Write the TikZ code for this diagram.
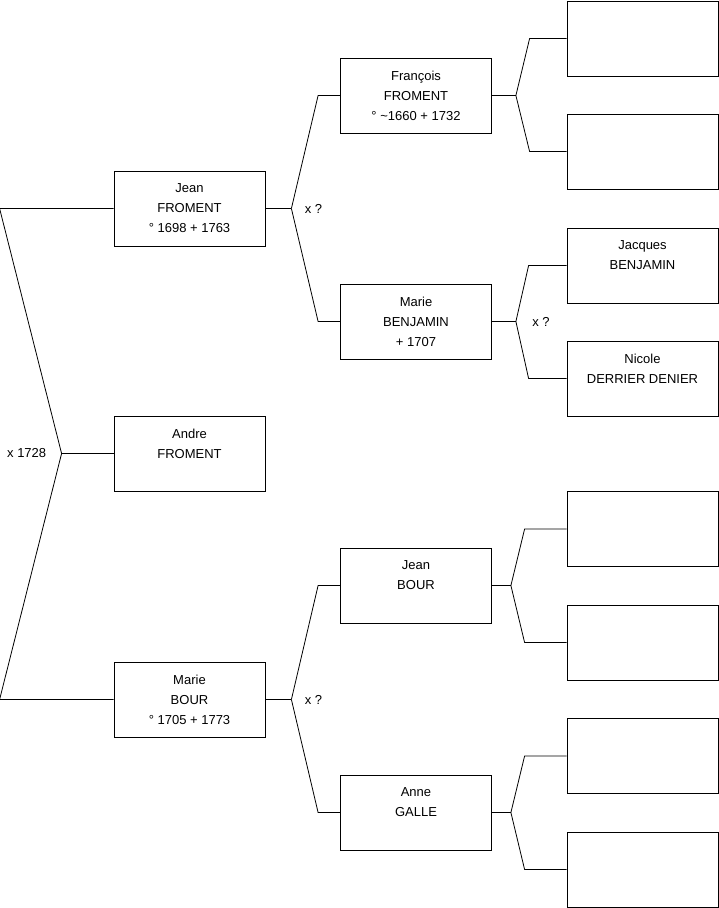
\documentclass[tikz,border=0pt]{standalone}
\usepackage{fontspec}
\setmainfont{Liberation Sans}
\usetikzlibrary{positioning}

\begin{document}
\begin{tikzpicture}[x=1pt, y=-1pt, line width=0.8pt,
    person/.style={draw, fill=white, minimum width=151, minimum height=75, align=center,
      inner sep=0pt, font=\fontsize{13}{20}\selectfont},
    marr/.style={font=\fontsize{13}{15}\selectfont, inner sep=2pt}]
  \useasboundingbox (0,0) rectangle (719,908);
  % generation 1 and 2
  \node[person] (jean)  at (189.5,208.5) {Jean\\FROMENT\\° 1698 + 1763};
  \node[person] (andre) at (189.5,453.5) {Andre\\FROMENT\\\mbox{}};
  \node[person] (mbour) at (189.5,699.5) {Marie\\BOUR\\° 1705 + 1773};
  % generation 3
  \node[person] (fran)  at (416,95.5)  {François\\FROMENT\\° \textasciitilde1660 + 1732};
  \node[person] (mben)  at (416,321.5) {Marie\\BENJAMIN\\+ 1707};
  \node[person] (jbour) at (416,585.5) {Jean\\BOUR\\\mbox{}};
  \node[person] (anne)  at (416,812.5) {Anne\\GALLE\\\mbox{}};
  % generation 4
  \foreach \i/\y/\txt in {1/38.5/{}, 2/151.5/{}, 3/265.5/{Jacques\\BENJAMIN\\\mbox{}},
      4/378.5/{Nicole\\DERRIER DENIER\\\mbox{}}, 5/529/{}, 6/642.5/{}, 7/756/{}, 8/869.5/{}} {
    \node[person] (r\i) at (642.5,\y) {\txt};
  }
  % forks
  \draw (jean.west) -- ([xshift=-114]jean.west) -- ([xshift=-52]andre.west) coordinate (f0)
    -- ([xshift=-114]mbour.west) -- (mbour.west);
  \draw (f0) -- (andre.west);
  \node[marr, left=13pt of f0] {x 1728};
  \foreach \p/\a/\b/\s/\o in {jean/fran/mben/26/22, mbour/jbour/anne/26/22,
      fran/r1/r2/24/37, mben/r3/r4/24/38, jbour/r5/r6/19/42, anne/r7/r8/19/42} {
    \draw (\p.east) -- ([xshift=\s]\p.east) coordinate (f\p);
    \draw (f\p) -- ([xshift=-\o]\a.west) -- (\a.west);
    \draw (f\p) -- ([xshift=-\o]\b.west) -- (\b.west);
  }
  \node[marr, anchor=west] at ([xshift=11]fjean) {x ?};
  \node[marr, anchor=west] at ([xshift=11]fmbour) {x ?};
  \node[marr, anchor=west] at ([xshift=14]fmben) {x ?};
\end{tikzpicture}
\end{document}
